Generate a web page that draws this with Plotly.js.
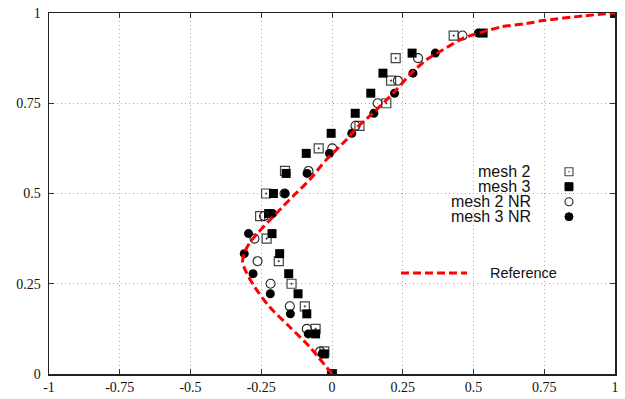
<!DOCTYPE html>
<html>
<head>
<meta charset="utf-8">
<script src="https://cdn.plot.ly/plotly-3.0.1.min.js"></script>
<style>html,body{margin:0;padding:0;background:#fff}#chart{width:625px;height:399px}</style>
</head>
<body>
<div id="chart"></div>
<script>
// ---- data ----
const mesh2X   = [0, -0.027, -0.058, -0.096, -0.143, -0.188, -0.231, -0.254, -0.233, -0.166, -0.047, 0.097, 0.192, 0.209, 0.225, 0.430, 1.0];
const mesh2Y   = [0, 0.0625, 0.125, 0.1875, 0.25, 0.3125, 0.375, 0.4375, 0.5, 0.5625, 0.625, 0.6875, 0.75, 0.8125, 0.875, 0.9375, 1.0];
const mesh2NRX = [0, -0.042, -0.089, -0.149, -0.217, -0.263, -0.274, -0.240, -0.168, -0.083, 0.001, 0.083, 0.161, 0.233, 0.304, 0.461, 1.0];
const mesh2NRY = mesh2Y;
const mesh3X   = [0, -0.027, -0.058, -0.089, -0.120, -0.153, -0.185, -0.212, -0.224, -0.207, -0.162, -0.091, -0.003, 0.082, 0.137, 0.180, 0.283, 0.534, 1.0];
const mesh3Y   = [0, 0.0556, 0.1111, 0.1667, 0.2222, 0.2778, 0.3333, 0.3889, 0.4444, 0.5, 0.5556, 0.6111, 0.6667, 0.7222, 0.7778, 0.8333, 0.8889, 0.9444, 1.0];
const mesh3NRX = [0, -0.035, -0.084, -0.147, -0.218, -0.279, -0.310, -0.295, -0.210, -0.166, -0.088, -0.009, 0.070, 0.148, 0.221, 0.286, 0.365, 0.517, 1.0];
const mesh3NRY = mesh3Y;
const refX = [0, -0.080, -0.150, -0.221, -0.274, -0.305, -0.316, -0.310, -0.292, -0.263, -0.215, -0.172, -0.128, -0.080, -0.021, 0.050, 0.086, 0.144, 0.221, 0.280, 0.333, 0.392, 0.463, 0.522, 0.600, 0.687, 0.746, 0.888, 1.0];
const refY = [0, 0.076, 0.131, 0.186, 0.242, 0.285, 0.310, 0.335, 0.362, 0.390, 0.430, 0.465, 0.500, 0.537, 0.593, 0.648, 0.681, 0.722, 0.782, 0.833, 0.870, 0.898, 0.930, 0.945, 0.962, 0.971, 0.979, 0.992, 1.0];
const xTickVals = [-1, -0.75, -0.5, -0.25, 0, 0.25, 0.5, 0.75, 1];
const xTickText = ["-1", "-0.75", "-0.5", "-0.25", "0", "0.25", "0.5", "0.75", "1"];
const yTickVals = [0, 0.25, 0.5, 0.75, 1];
const yTickText = ["0", "0.25", "0.5", "0.75", "1"];
const seriesNames = ["mesh 2", "mesh 3", "mesh 2 NR", "mesh 3 NR", "Reference"];

// ---- styles ----
const gray = '#444';
const traces = [
  {x: mesh2X, y: mesh2Y, name: seriesNames[0], mode: 'markers', type: 'scatter',
   marker: {symbol: 'square-open-dot', size: 9, color: gray, line: {width: 1.2, color: gray}}},
  {x: mesh3X, y: mesh3Y, name: seriesNames[1], mode: 'markers', type: 'scatter',
   marker: {symbol: 'square', size: 9, color: '#000'}},
  {x: mesh2NRX, y: mesh2NRY, name: seriesNames[2], mode: 'markers', type: 'scatter',
   marker: {symbol: 'circle-open', size: 9, color: '#222', line: {width: 1.1, color: '#222'}}},
  {x: mesh3NRX, y: mesh3NRY, name: seriesNames[3], mode: 'markers', type: 'scatter',
   marker: {symbol: 'circle', size: 9, color: '#000'}},
  {x: refX, y: refY, name: seriesNames[4], mode: 'lines', type: 'scatter',
   line: {color: '#ff0000', width: 3, dash: '8px,4px', shape: 'spline', smoothing: 0.7}}
];

// legend (drawn by hand: text right-aligned, symbols to the right)
const lx = 0.9187;  // symbol column (paper)
const tx = 0.8546;  // text right edge (paper)
const rowsY = [0.5604, 0.5188, 0.4773, 0.4357];
const legFont = {family: 'Liberation Sans, Arial, sans-serif', size: 16, color: '#111'};
const annotations = [];
for (let i = 0; i < 4; i++) {
  annotations.push({xref: 'paper', yref: 'paper', x: tx, y: rowsY[i], xanchor: 'right', yanchor: 'middle',
    text: seriesNames[i], showarrow: false, font: legFont});
}
annotations.push({xref: 'paper', yref: 'paper', x: 0.7756, y: 0.2798, xanchor: 'left', yanchor: 'middle',
  text: seriesNames[4], showarrow: false, font: {family: 'Liberation Sans, Arial, sans-serif', size: 14.5, color: '#111'}});

function sym(type, row, fill, lineColor, lw) {
  return {type: type, xref: 'paper', yref: 'paper', xsizemode: 'pixel', ysizemode: 'pixel',
    xanchor: lx, yanchor: rowsY[row], x0: -4, x1: 4, y0: -4, y1: 4,
    fillcolor: fill, line: {color: lineColor, width: lw}};
}
const shapes = [
  sym('rect', 0, 'rgba(0,0,0,0)', gray, 1.1),
  {type: 'rect', xref: 'paper', yref: 'paper', xsizemode: 'pixel', ysizemode: 'pixel', xanchor: lx, yanchor: rowsY[0],
   x0: -0.6, x1: 0.6, y0: -0.6, y1: 0.6, fillcolor: gray, line: {width: 0}},
  sym('rect', 1, '#000', '#000', 1),
  sym('circle', 2, 'rgba(0,0,0,0)', '#222', 1.1),
  sym('circle', 3, '#000', '#000', 1),
  {type: 'line', xref: 'paper', yref: 'paper', x0: 0.6219, x1: 0.7385, y0: 0.2798, y1: 0.2798,
   line: {color: '#ff0000', width: 3, dash: '8px,4px'}}
];

const tickFont = {family: 'Liberation Serif, Times New Roman, serif', size: 14, color: '#111'};
const gridStyle = {showgrid: true, gridcolor: '#aaa', griddash: '1px,3px', gridwidth: 1, zeroline: false};
const layout = {
  width: 625, height: 399,
  margin: {l: 49, r: 10, t: 13, b: 25, pad: 0},
  paper_bgcolor: '#fff', plot_bgcolor: '#fff',
  showlegend: false,
  xaxis: Object.assign({range: [-1, 1], tickvals: xTickVals, ticktext: xTickText, tickfont: tickFont,
    showline: true, linecolor: '#222', linewidth: 1.5, mirror: 'ticks',
    ticks: 'inside', ticklen: 5, tickcolor: '#333', tickwidth: 1, fixedrange: true}, gridStyle),
  yaxis: Object.assign({range: [0, 1], tickvals: yTickVals, ticktext: yTickText, tickfont: tickFont,
    showline: true, linecolor: '#222', linewidth: 1.5, mirror: 'ticks',
    ticks: 'inside', ticklen: 5, tickcolor: '#333', tickwidth: 1, ticklabelstandoff: 4, fixedrange: true}, gridStyle),
  annotations: annotations,
  shapes: shapes
};
Plotly.newPlot('chart', traces, layout, {displayModeBar: false, staticPlot: true});
</script>
</body>
</html>
